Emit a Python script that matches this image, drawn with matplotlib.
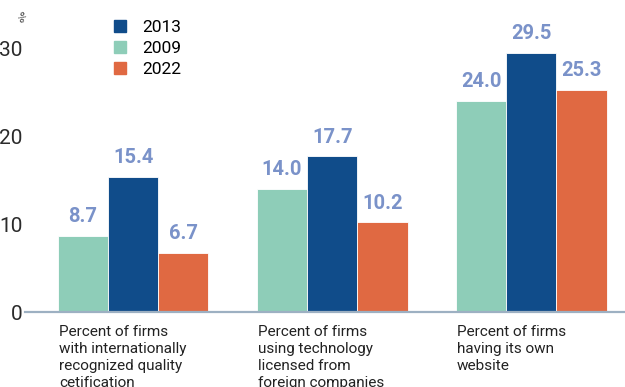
import matplotlib
matplotlib.use("Agg")
import matplotlib.pyplot as plt
import numpy as np
from matplotlib.lines import Line2D

# ── Data ──────────────────────────────────────────────────────────────────────
categories = [
    "Percent of firms\nwith internationally\nrecognized quality\ncetification",
    "Percent of firms\nusing technology\nlicensed from\nforeign companies",
    "Percent of firms\nhaving its own\nwebsite",
]
vals_2009 = [8.7, 14.0, 24.0]
vals_2013 = [15.4, 17.7, 29.5]
vals_2022 = [6.7, 10.2, 25.3]
yticks = [0, 10, 20, 30]

# ── Style ─────────────────────────────────────────────────────────────────────
GREEN  = "#8ECDB8"
BLUE   = "#104C8A"
ORANGE = "#E06942"
LABEL  = "#7A92C9"
AXIS   = "#9DB0C2"
FONT   = ["Roboto", "DejaVu Sans"]

fig = plt.figure(figsize=(6.25, 3.87), dpi=100)
ax = fig.add_axes([25 / 625, 75 / 387, 600 / 625, 268 / 387])

x = np.arange(len(categories))
w = 0.252
series = [(vals_2009, GREEN, -w), (vals_2013, BLUE, 0.0), (vals_2022, ORANGE, w)]
for vals, col, off in series:
    bars = ax.bar(x + off, vals, width=w, color=col, edgecolor="white",
                  linewidth=0.6, zorder=2)
    for b, v in zip(bars, vals):
        ax.text(b.get_x() + b.get_width() / 2, v + 1.1, f"{v:.1f}",
                ha="center", va="bottom", fontsize=14.5, fontweight="bold",
                color=LABEL, family=FONT)

ax.set_xlim(-0.543, 2.47)
ax.set_ylim(0, 30.5)
ax.set_yticks(yticks)
ax.set_yticklabels([str(t) for t in yticks], family=FONT, fontsize=15,
                   color="#2b2b2b")
ax.tick_params(axis="y", length=0, pad=2)
ax.set_xticks([])
for s in ["top", "right", "left"]:
    ax.spines[s].set_visible(False)
ax.spines["bottom"].set_color(AXIS)
ax.spines["bottom"].set_linewidth(1.6)

# unit marker above the y tick labels
ax.text(-0.009, 1.097, "%", transform=ax.transAxes, fontsize=9,
        color="#444444", rotation=-45, ha="center", va="center", family=FONT)

# Category captions, left-aligned under each group
for xi, lab in zip(x, categories):
    ax.text(xi - 1.5 * w + 0.005, -1.5, lab, ha="left", va="top", fontsize=11,
            family=FONT, color="#222222", linespacing=1.28, clip_on=False)

handles = [Line2D([0], [0], marker="s", linestyle="none", markersize=9,
                  markerfacecolor=c, markeredgecolor=c)
           for c in (BLUE, GREEN, ORANGE)]
leg = ax.legend(handles, ["2013", "2009", "2022"], loc="upper left",
                bbox_to_anchor=(0.118, 1.115), frameon=False,
                prop={"family": FONT, "size": 12.5},
                handletextpad=0.25, labelspacing=0.32, borderaxespad=0)

plt.savefig("out.png", dpi=100)
plt.close()
